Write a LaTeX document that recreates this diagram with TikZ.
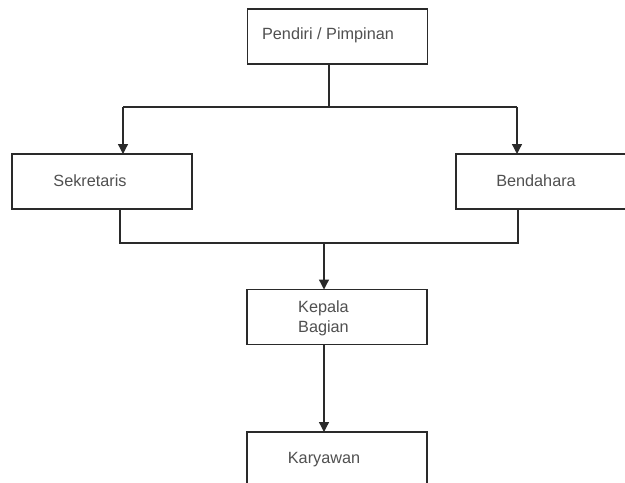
\documentclass[tikz,border=0pt]{standalone}
\usepackage{fontspec}
\setmainfont{Liberation Sans}
\usetikzlibrary{arrows.meta}
\definecolor{txtgrey}{HTML}{505050}
\definecolor{linegrey}{HTML}{2A2A2A}
\tikzset{
  box/.style={draw=linegrey, line width=1.2bp, minimum width=180bp, minimum height=55bp, inner sep=0pt, outer sep=0pt},
  txt/.style={text=txtgrey, font=\fontsize{16.3}{20}\selectfont, inner sep=0pt},
  conn/.style={draw=linegrey, line width=1.3bp},
  arr/.style={conn, -{Triangle[width=10pt,length=10pt]}}
}
\begin{document}
\begin{tikzpicture}[x=1bp, y=-1bp]
\useasboundingbox[fill=white] (0,0) rectangle (625,483);
\clip (0,0) rectangle (625,483);
% boxes
\node[box] (top) at (337.5,36.5) {};
\node[box] (sek) at (102,181.5) {};
\node[box] (ben) at (546,181.5) {};
\node[box] (kep) at (337,317) {};
\node[box] (kar) at (337,459.5) {};
% texts
\node[txt] (ttop) at (328,35) {Pendiri / Pimpinan};
\node[txt] (tsek) at (90,181) {Sekretaris};
\node[txt] (tben) at (536,181) {Bendahara};
\node[txt, anchor=west, align=left] (tkep) at (298,318) {Kepala\\Bagian};
\node[txt] (tkar) at (324,460) {Karyawan};
% junctions
\coordinate (j1) at (329,107);
\coordinate (lc) at (123,107);
\coordinate (rc) at (517,107);
\coordinate (bl) at (120,243);
\coordinate (br) at (518,243);
\coordinate (j2) at (324,243);
% connectors
\draw[conn] (top.south -| j1) -- (j1);
\draw[conn] (lc) -- (rc);
\draw[arr] (lc) -- (lc |- sek.north);
\draw[arr] (rc) -- (rc |- ben.north);
\draw[conn] (sek.south -| bl) -- (bl) -- (br) -- (ben.south -| br);
\draw[arr] (j2) -- (j2 |- kep.north);
\draw[arr] (kep.south -| j2) -- (j2 |- kar.north);
\end{tikzpicture}
\end{document}
